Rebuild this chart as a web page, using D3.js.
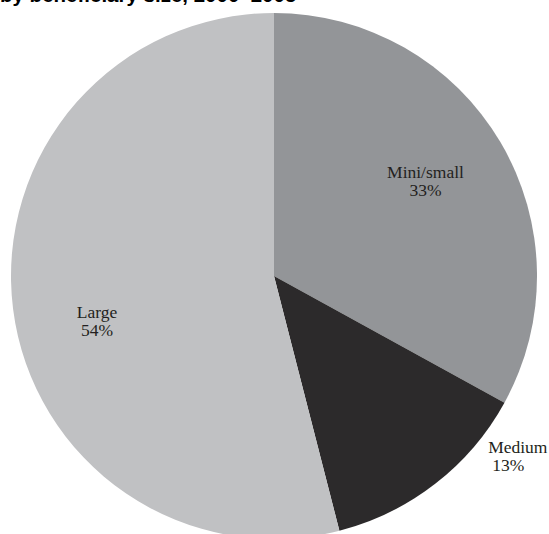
<!DOCTYPE html>
<html>
<head>
<meta charset="utf-8">
<script src="https://cdn.jsdelivr.net/npm/d3@7"></script>
<style>
  body { margin: 0; background: #fff; }
  svg { display: block; }
</style>
</head>
<body>
<svg width="549" height="534"></svg>
<script>
var categories = ["Mini/small", "Medium", "Large"];
var shares = [33, 13, 54];
var labels = ["33%", "13%", "54%"];
var title = "by beneficiary size, 2000\u20132005";

var svg = d3.select("svg"),
    width = +svg.attr("width"),
    height = +svg.attr("height");

var cx = 274, cy = 276, radius = 263;

var color = d3.scaleOrdinal()
    .domain(categories)
    .range(["#939598", "#2c2a2b", "#c0c1c3"]);

var pie = d3.pie().sort(null).value(function(d) { return d.value; });
var data = categories.map(function(c, i) { return {name: c, value: shares[i], label: labels[i]}; });
var arcs = pie(data);

var arc = d3.arc().innerRadius(0).outerRadius(radius);

var g = svg.append("g").attr("transform", "translate(" + cx + "," + cy + ")");

g.selectAll("path")
    .data(arcs)
  .enter().append("path")
    .attr("d", arc)
    .attr("fill", function(d) { return color(d.data.name); });

// label placement: inside slices at ~180px, medium sits outside the rim
function labelPos(d) {
  var a = (d.startAngle + d.endAngle) / 2, r = 176;
  if (d.data.name === "Medium") { a = d.startAngle + 0.21; r = 283; }
  if (d.data.name === "Large") { a -= 0.15; r = 184; }
  return [Math.sin(a) * r, -Math.cos(a) * r];
}

var lab = g.selectAll("text.lab")
    .data(arcs)
  .enter().append("text")
    .attr("class", "lab")
    .attr("font-family", "'Liberation Serif', 'Times New Roman', serif")
    .attr("font-size", 17.5)
    .attr("fill", "#231f20")
    .attr("text-anchor", function(d) { return d.data.name === "Medium" ? "start" : "middle"; })
    .attr("transform", function(d) { var p = labelPos(d); return "translate(" + p[0] + "," + p[1] + ")"; });

lab.append("tspan")
    .attr("x", 0).attr("y", -8)
    .text(function(d) { return d.data.name; });
lab.append("tspan")
    .attr("x", function(d) { return d.data.name === "Medium" ? 4 : 0; })
    .attr("y", 10)
    .text(function(d) { return d.data.label; });

svg.append("text")
    .attr("x", 0)
    .attr("y", 2)
    .attr("font-family", "'Liberation Sans', Arial, sans-serif")
    .attr("font-weight", "bold")
    .attr("font-size", 20.5)
    .attr("fill", "#000")
    .text(title);
</script>
</body>
</html>
